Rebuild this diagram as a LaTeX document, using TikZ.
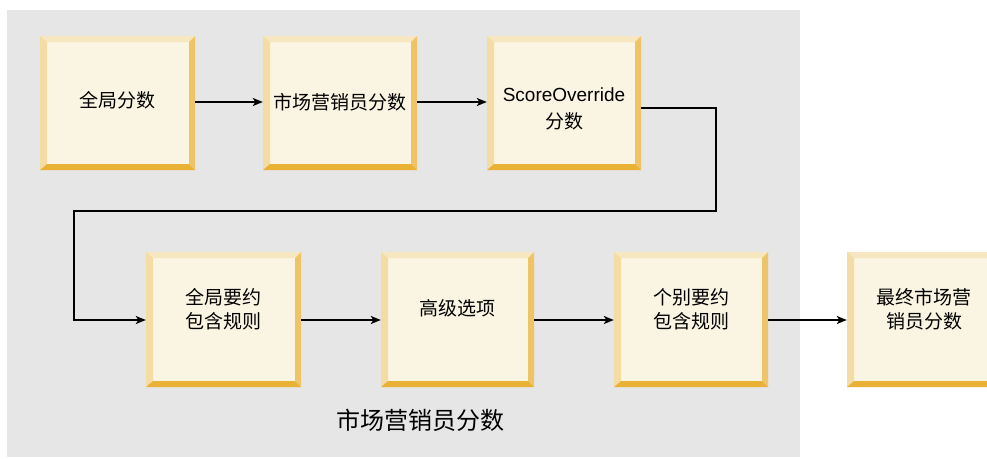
\documentclass[tikz,border=0pt]{standalone}
\usepackage{fontspec}
\setmainfont{Liberation Sans}
\newfontfamily\cjk{Noto Sans CJK SC}
\usetikzlibrary{arrows.meta,fit}
\definecolor{bgray}{HTML}{E6E6E6}
\definecolor{bfill}{HTML}{FAF5E2}
\definecolor{btop}{HTML}{F7E7C1}
\definecolor{bleft}{HTML}{F3DDA5}
\definecolor{bright}{HTML}{EEC466}
\definecolor{bbottom}{HTML}{E9B236}
\newcommand\bevbox[5]{%
  \fill[bfill] (#2,#3) rectangle (#4,#5);
  \fill[btop] (#2,#3) -- (#4,#3) -- ({#4-6},{#3+6}) -- ({#2+6},{#3+6}) -- cycle;
  \fill[bleft] (#2,#3) -- ({#2+7},{#3+6}) -- ({#2+7},{#5-6}) -- (#2,#5) -- cycle;
  \fill[bright] (#4,#3) -- ({#4-6},{#3+6}) -- ({#4-6},{#5-6}) -- (#4,#5) -- cycle;
  \fill[bbottom] (#2,#5) -- ({#2+7},{#5-6}) -- ({#4-6},{#5-6}) -- (#4,#5) -- cycle;
  \node[fit={(#2,#3) (#4,#5)}, inner sep=0pt, draw=none] (#1) {};
}
\tikzset{
  boxtext/.style={font=\cjk\fontsize{19}{24}\selectfont, align=center, inner sep=0pt, text=black},
  flow/.style={draw=black, line width=1.3pt, -{Stealth[length=10pt,width=8pt,inset=2.5pt]}},
}
\begin{document}
\begin{tikzpicture}[x=1pt,y=-1pt]
\useasboundingbox (0,0) rectangle (987,458);
\clip (0,0) rectangle (987,458);
\fill[bgray] (7,10) rectangle (800,457);
\bevbox{b1}{40}{36}{195}{170}
\bevbox{b2}{263}{36}{417}{170}
\bevbox{b3}{487}{36}{641}{170}
\bevbox{b4}{146}{252}{301}{387}
\bevbox{b5}{381}{252}{534}{387}
\bevbox{b6}{614}{252}{768}{387}
\bevbox{b7}{847}{252}{1001}{387}
\node[boxtext] (t1) at (117,100) {全局分数};
\node[boxtext] (t2) at (340,102) {市场营销员分数};
\node[boxtext, font=\cjk\fontsize{19}{27}\selectfont] (t3) at (564,109) {{\fontspec{Liberation Sans}ScoreOverride}\\分数};
\node[boxtext] (t4) at (223,309) {全局要约\\包含规则};
\node[boxtext] (t5) at (457,308) {高级选项};
\node[boxtext] (t6) at (691,309) {个别要约\\包含规则};
\node[boxtext] (t7) at (924,309) {最终市场营\\销员分数};
\node[font=\cjk\fontsize{24}{28}\selectfont, text=black, inner sep=0pt] (lbl) at (420,420) {市场营销员分数};
\coordinate (c1) at (716,108);
\coordinate (c2) at (716,211);
\coordinate (c3) at (74,211);
\coordinate (c4) at (74,320);
\draw[flow] (b1.east |- 0,102) -- (b2.west |- 0,102);
\draw[flow] (b2.east |- 0,102) -- (b3.west |- 0,102);
\draw[flow] (b3.east |- c1) -- (c1) -- (c2) -- (c3) -- (c4) -- (b4.west |- c4);
\draw[flow] (b4.east |- c4) -- (b5.west |- c4);
\draw[flow] (b5.east |- c4) -- (b6.west |- c4);
\draw[flow] (b6.east |- c4) -- (b7.west |- c4);
\end{tikzpicture}
\end{document}
